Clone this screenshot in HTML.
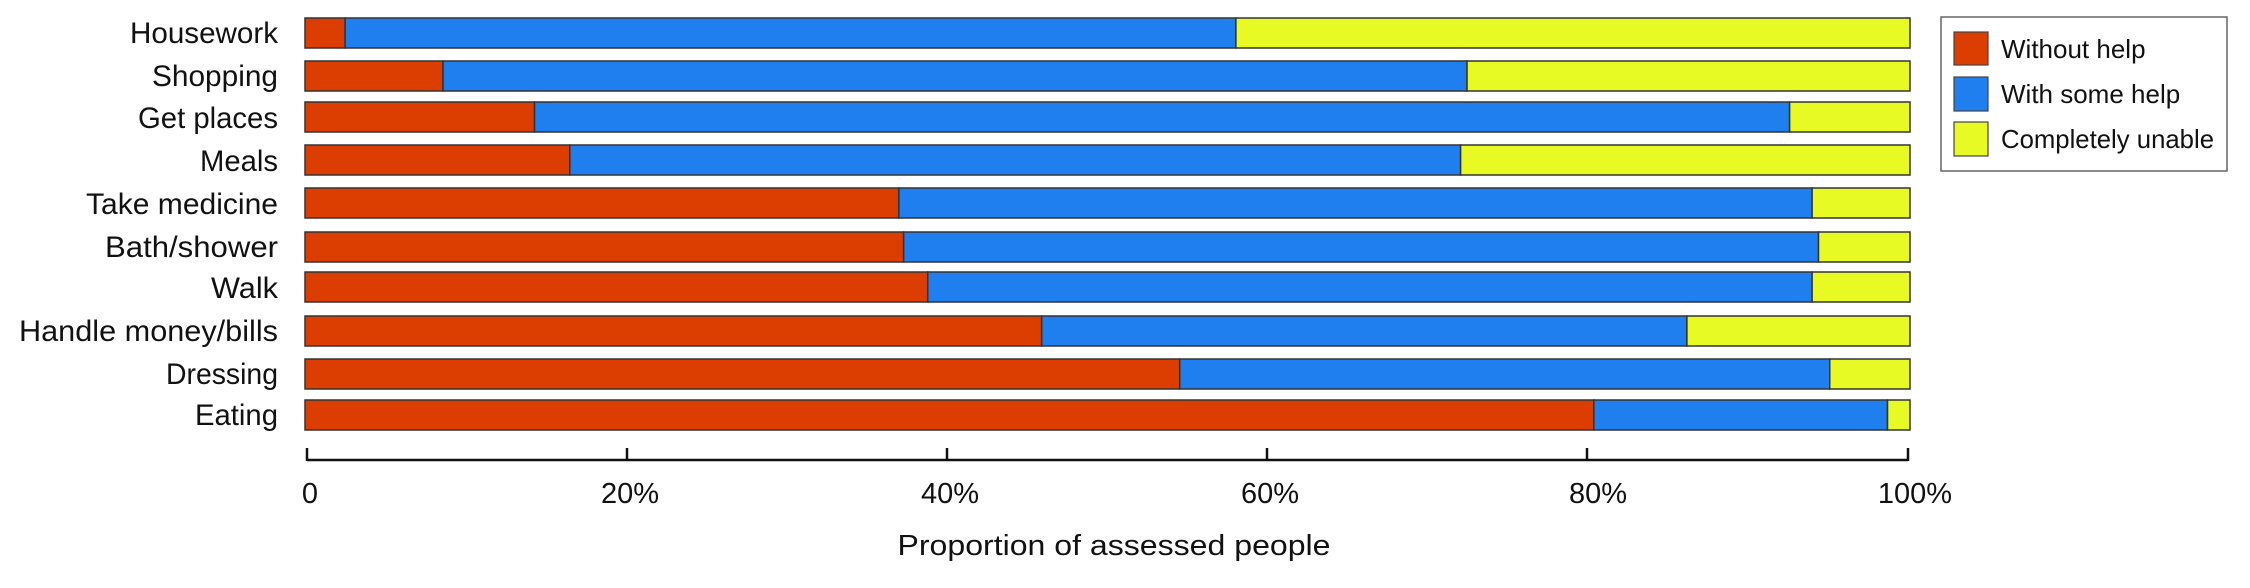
<!DOCTYPE html>
<html><head><meta charset="utf-8"><style>
html,body{margin:0;padding:0;background:#fff;}
svg{display:block;font-family:"Liberation Sans",sans-serif;}
</style></head><body>
<svg width="2250" height="588" viewBox="0 0 2250 588" xmlns="http://www.w3.org/2000/svg">
<g id="bars" stroke="#333" stroke-width="1.5"></g>
<g font-size="30" fill="#111" text-anchor="end">
<text x="278" y="43" textLength="148" lengthAdjust="spacingAndGlyphs">Housework</text>
<text x="278" y="86" textLength="126" lengthAdjust="spacingAndGlyphs">Shopping</text>
<text x="278" y="128" textLength="140" lengthAdjust="spacingAndGlyphs">Get places</text>
<text x="278" y="171" textLength="78" lengthAdjust="spacingAndGlyphs">Meals</text>
<text x="278" y="214" textLength="192" lengthAdjust="spacingAndGlyphs">Take medicine</text>
<text x="278" y="257" textLength="173" lengthAdjust="spacingAndGlyphs">Bath/shower</text>
<text x="278" y="298" textLength="67" lengthAdjust="spacingAndGlyphs">Walk</text>
<text x="278" y="341" textLength="259" lengthAdjust="spacingAndGlyphs">Handle money/bills</text>
<text x="278" y="384" textLength="112" lengthAdjust="spacingAndGlyphs">Dressing</text>
<text x="278" y="425" textLength="83" lengthAdjust="spacingAndGlyphs">Eating</text>
</g>
<g stroke="#111" stroke-width="2.5" fill="none">
<line x1="307" y1="460" x2="1908" y2="460"/>
<line x1="307" y1="448" x2="307" y2="461"/>
<line x1="627" y1="448" x2="627" y2="461"/>
<line x1="947" y1="448" x2="947" y2="461"/>
<line x1="1267" y1="448" x2="1267" y2="461"/>
<line x1="1587" y1="448" x2="1587" y2="461"/>
<line x1="1908" y1="448" x2="1908" y2="461"/>
</g>
<g font-size="29" fill="#111" text-anchor="middle">
<text x="310" y="503">0</text>
<text x="630" y="503">20%</text>
<text x="950" y="503">40%</text>
<text x="1270" y="503">60%</text>
<text x="1598" y="503">80%</text>
<text x="1915" y="503">100%</text>
<text x="1114" y="555" textLength="433" lengthAdjust="spacingAndGlyphs">Proportion of assessed people</text>
</g>
<rect x="1941" y="17" width="286" height="154" fill="#fff" stroke="#666" stroke-width="1.5"/>
<rect x="1954" y="32" width="34" height="33" fill="#db3e00" stroke="#444" stroke-width="1.2"/>
<rect x="1954" y="77" width="34" height="34" fill="#1f7fee" stroke="#444" stroke-width="1.2"/>
<rect x="1954" y="122" width="34" height="34" fill="#e8fa24" stroke="#444" stroke-width="1.2"/>
<g font-size="26" fill="#111">
<text x="2001" y="58">Without help</text>
<text x="2001" y="103">With some help</text>
<text x="2001" y="148" textLength="213" lengthAdjust="spacingAndGlyphs">Completely unable</text>
</g>
</svg>
<script>
var d=[[2.5,58.0],[8.6,72.4],[14.3,92.5],[16.5,72.0],[37.0,93.9],[37.3,94.3],[38.8,93.9],[45.9,86.1],[54.5,95.0],[80.3,98.6]];
var ys=[18,61,102,145,188,232,272,316,359,400];
var g=document.getElementById('bars');var x0=305,W=1605;var s='';
d.forEach(function(r,i){var y=ys[i],a=x0+W*r[0]/100,b=x0+W*r[1]/100,e=x0+W;
s+='<rect x="'+x0+'" y="'+y+'" width="'+(a-x0)+'" height="30" fill="#db3e00"/>';
s+='<rect x="'+a+'" y="'+y+'" width="'+(b-a)+'" height="30" fill="#1f7fee"/>';
s+='<rect x="'+b+'" y="'+y+'" width="'+(e-b)+'" height="30" fill="#e8fa24"/>';});
g.innerHTML=s;
</script>
</body></html>
